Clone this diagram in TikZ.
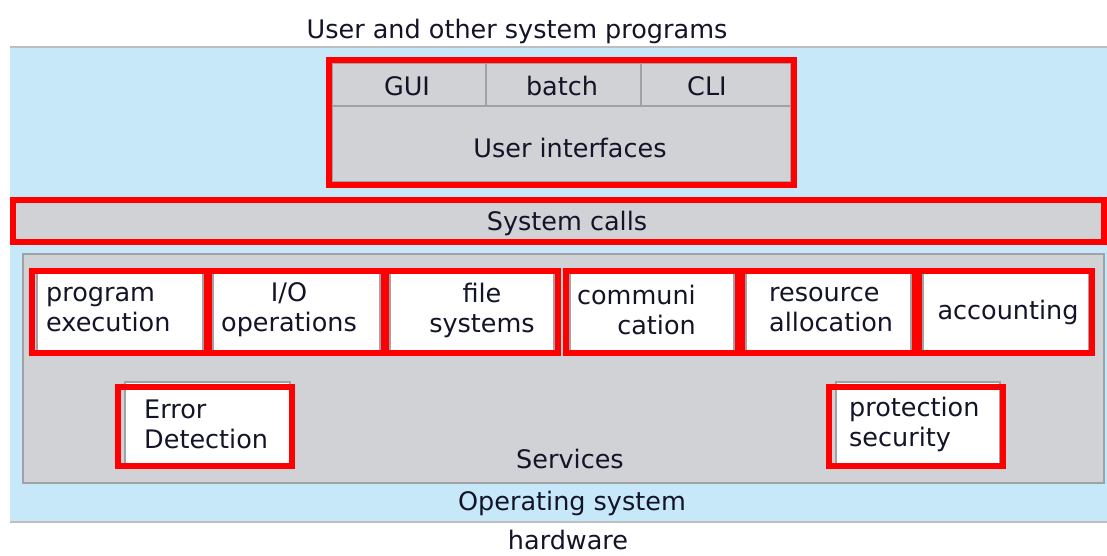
\documentclass[tikz,border=0pt]{standalone}
\usepackage{fontspec}
\setmainfont{DejaVu Sans}
\definecolor{bluebg}{RGB}{198,232,249}
\definecolor{panel}{RGB}{208,210,214}
\definecolor{edge}{RGB}{160,162,166}
\definecolor{txt}{RGB}{20,20,40}
\definecolor{redline}{RGB}{255,0,0}
\tikzset{
  lbl/.style={font=\fontsize{25.5}{30}\selectfont, text=txt, inner sep=0pt},
  whitebox/.style={fill=white, draw=edge, line width=1.5pt},
  redframe/.style={draw=redline, line width=6pt},
  panelbox/.style={fill=panel, draw=edge, line width=1.2pt},
}
\begin{document}
\begin{tikzpicture}[x=1pt,y=-1pt]
\useasboundingbox (0,0) rectangle (1107,555);
\fill[white] (0,0) rectangle (1107,555);
% operating system band
\fill[bluebg] (10,47) rectangle (1107,522);
\draw[edge!70, line width=2pt] (10,47) -- (1107,47);
\draw[edge!70, line width=2pt] (10,522) -- (1107,522);
\node[lbl] (top) at (517,31) {User and other system programs};
% user interfaces
\draw[panelbox] (332,63) rectangle (791,182);
\draw[edge, line width=1.5pt] (332,106) -- (791,106);
\draw[edge, line width=1.5pt] (486,63) -- (486,106);
\draw[edge, line width=1.5pt] (641,63) -- (641,106);
\draw[redframe] (329,60) rectangle (794,185);
\node[lbl] (gui) at (407,86) {GUI};
\node[lbl] (batch) at (562,86) {batch};
\node[lbl] (cli) at (707,86) {CLI};
\node[lbl] (ui) at (570,148) {User interfaces};
% system calls
\fill[panel] (13,200) rectangle (1104,242);
\draw[redframe] (13,200) rectangle (1104,242);
\node[lbl] (sc) at (567,223) {System calls};
% services
\draw[panelbox] (23,254) rectangle (1104,483);
% service boxes
\draw[whitebox] (37,273) rectangle (203,351);
\draw[whitebox] (213,273) rectangle (380,351);
\draw[whitebox] (390,273) rectangle (554,351);
\draw[whitebox] (570,273) rectangle (734,351);
\draw[whitebox] (746,273) rectangle (911,351);
\draw[whitebox] (923,273) rectangle (1089,351);
\draw[redframe] (32,271) rectangle (207,353);
\draw[redframe] (209,271) rectangle (384,353);
\draw[redframe] (386,271) rectangle (558,353);
\draw[redframe] (566,271) rectangle (738,353);
\draw[redframe] (742,271) rectangle (915,353);
\draw[redframe] (919,271) rectangle (1092,353);
\node[lbl, anchor=west, align=left] (pe) at (46,310) {program\\execution};
\node[lbl, align=center] (io) at (289,310) {I/O\\operations};
\node[lbl, align=center] (fs) at (482,310) {file\\systems};
\node[lbl, align=right, anchor=east] (com) at (696,310) {communi\\cation};
\node[lbl, anchor=west, align=left] (ra) at (769,310) {resource\\allocation};
\node[lbl] (acc) at (1008,312) {accounting};
% error detection
\draw[whitebox] (125,382) rectangle (290,464);
\draw[redframe] (118,387) rectangle (292,466);
\node[lbl, anchor=west, align=left] (ed) at (144,424) {Error\\Detection};
% protection
\draw[whitebox] (836,382) rectangle (1000,464);
\draw[redframe] (829,387) rectangle (1003,466);
\node[lbl, anchor=west, align=left] (ps) at (849,424) {protection\\security};
\node[lbl] (svc) at (570,459) {Services};
\node[lbl] (os) at (572,503) {Operating system};
\node[lbl] (hw) at (568,540) {hardware};
\end{tikzpicture}
\end{document}
